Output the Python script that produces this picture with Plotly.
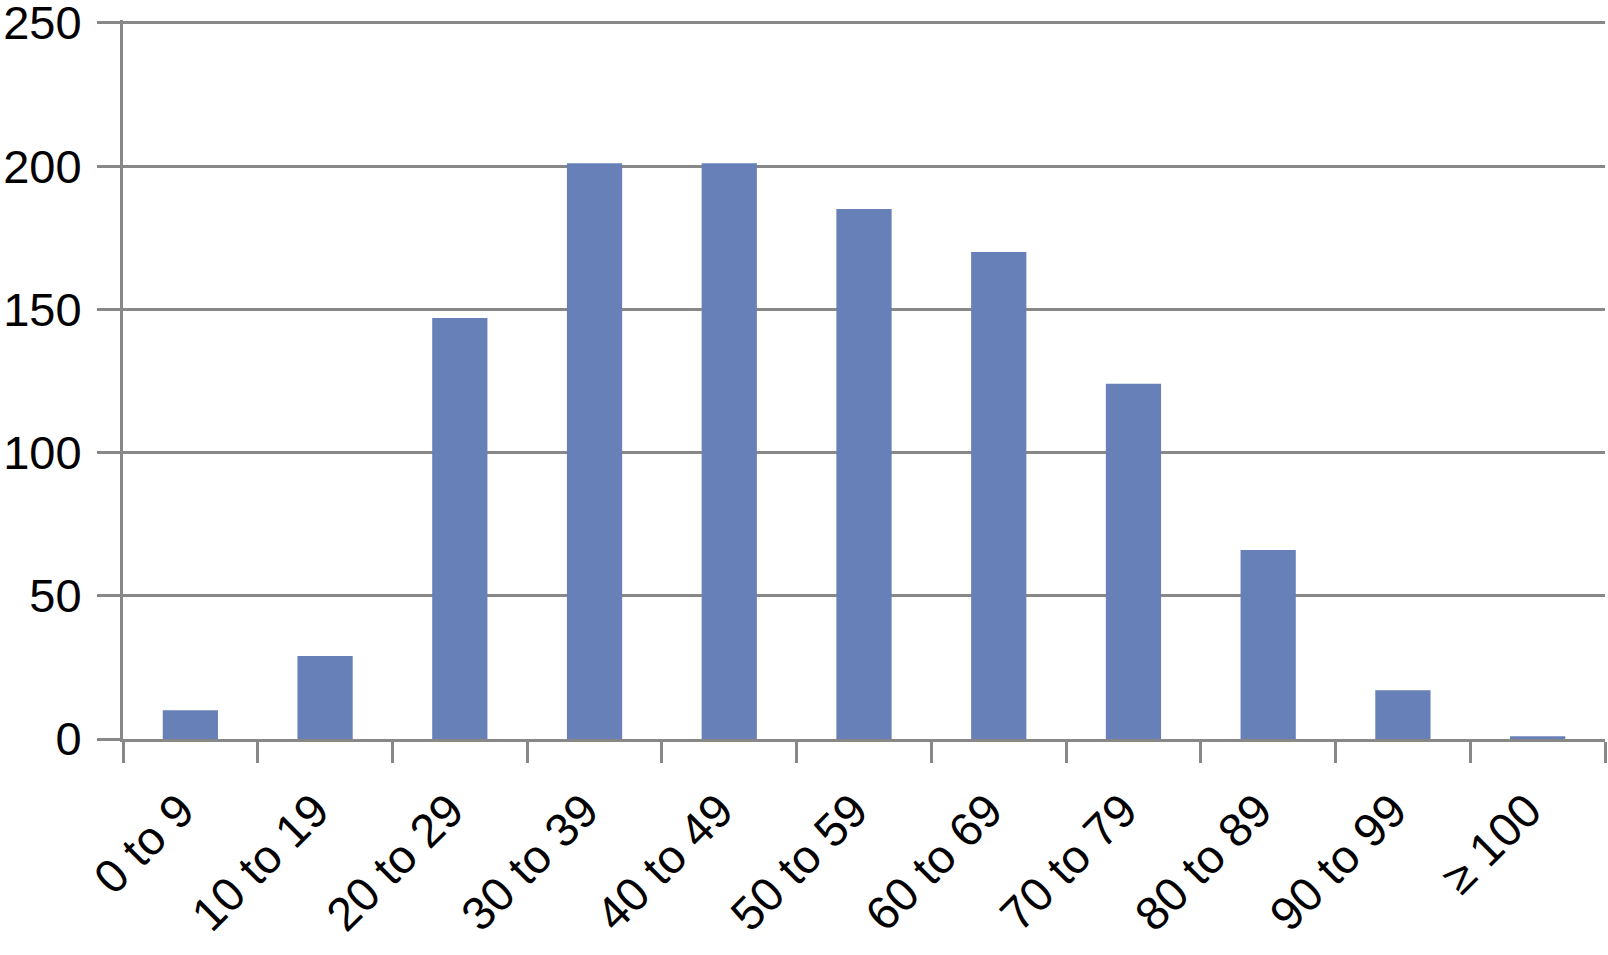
import plotly.graph_objects as go

# histogram counts per range
categorias = ['0 to 9', '10 to 19', '20 to 29', '30 to 39', '40 to 49', '50 to 59',
              '60 to 69', '70 to 79', '80 to 89', '90 to 99', '≥ 100']
valores = [10, 29, 147, 201, 201, 185, 170, 124, 66, 17, 1]
y_ticks = [0, 50, 100, 150, 200, 250]

gris = '#888888'
azul = '#6780b8'

fig = go.Figure(go.Bar(x=categorias, y=valores, marker=dict(color=azul, line=dict(width=0))))

fig.update_layout(
    width=1608, height=955,
    margin=dict(l=123, r=3, t=20, b=216, pad=0),
    font=dict(family='Liberation Sans, Arial, sans-serif', size=47, color='black'),
    plot_bgcolor='#fff',
    paper_bgcolor='#fff',
    bargap=0.59,
    showlegend=False,
)

fig.update_xaxes(
    type='category', tickangle=-45, automargin=False,
    showline=True, linewidth=3, linecolor=gris,
    ticks='outside', tickson='boundaries', ticklen=21, tickwidth=3, tickcolor=gris,
    showgrid=False, ticklabelstandoff=22, ticklabelshift=-10,
)
# rango un poco mayor a 250 para que la linea de 250 no se recorte
fig.update_yaxes(
    range=[0, 251], tickvals=y_ticks, automargin=False, ticklabeloverflow='allow',
    showline=True, linewidth=3, linecolor=gris,
    ticks='outside', ticklen=23, tickwidth=3, tickcolor=gris,
    showgrid=True, gridwidth=3, gridcolor=gris,
    zeroline=False, ticklabelstandoff=6,
)

# la pagina trae margen de 8px en el body, se quita
fig.write_html("out.html", config={'displayModeBar': False},
               post_script="document.body.style.margin='0';")
